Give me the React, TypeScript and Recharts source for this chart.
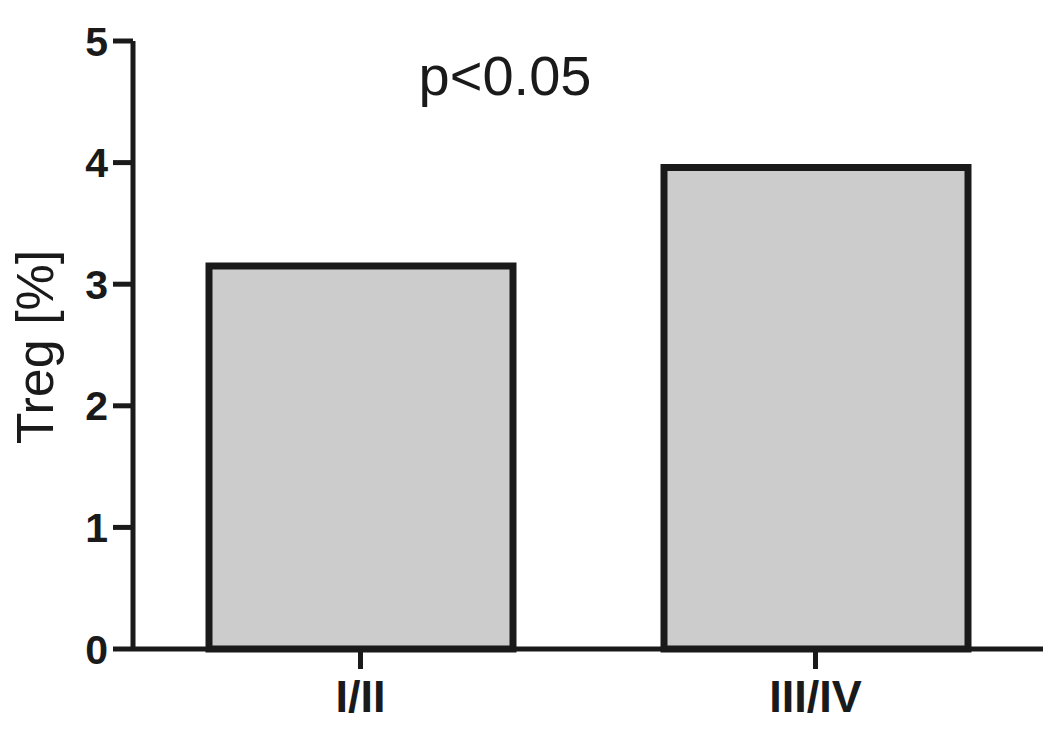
import React from 'react';
import { BarChart, Bar, XAxis, YAxis } from 'recharts';

const stages = ['I/II', 'III/IV'];
const tregValues = [3.15, 3.96];
const yTicks = [0, 1, 2, 3, 4, 5];
const pValueText = 'p<0.05';
const yTitle = 'Treg [%]';

const FONT = '"Liberation Sans", Arial, sans-serif';
const INK = '#1a1a1a';

const chartData = stages.map((stage, i) => ({ stage, treg: tregValues[i] }));

const YTitle = () => (
  <text
    x={53}
    y={347}
    transform="rotate(-90, 53, 347)"
    textAnchor="middle"
    fontFamily={FONT}
    fontSize={52}
    fill={INK}
  >
    {yTitle}
  </text>
);

const App: React.FC = () => {
  return (
    <div style={{ position: 'absolute', left: 0, top: 0, width: 1063, height: 736, background: '#fff' }}>
      <BarChart
        width={1063}
        height={736}
        data={chartData}
        margin={{ top: 41, right: 20, bottom: 0, left: 0 }}
        barCategoryGap={0}
      >
        <XAxis
          dataKey="stage"
          axisLine={{ stroke: INK, strokeWidth: 5 }}
          tickLine={{ stroke: INK, strokeWidth: 5 }}
          tickSize={20}
          tickMargin={11}
          tick={{ fill: INK, fontFamily: FONT, fontSize: 45, fontWeight: 'bold' }}
          height={87}
        />
        <YAxis
          domain={[0, 5]}
          ticks={yTicks}
          width={133}
          axisLine={{ stroke: INK, strokeWidth: 5 }}
          tickLine={{ stroke: INK, strokeWidth: 5 }}
          tickSize={20}
          tickMargin={5}
          tick={{ fill: INK, fontFamily: FONT, fontSize: 41, fontWeight: 'bold' }}
          label={{ content: () => <YTitle /> }}
        />
        <Bar
          dataKey="treg"
          fill="#cccccc"
          stroke={INK}
          strokeWidth={7}
          barSize={304}
          isAnimationActive={false}
        />
      </BarChart>
      <div
        style={{
          position: 'absolute',
          left: 505,
          top: 93,
          transform: 'translate(-50%, -80%)',
          fontFamily: FONT,
          fontSize: 56,
          color: INK,
          lineHeight: 1,
          whiteSpace: 'nowrap',
        }}
      >
        {pValueText}
      </div>
    </div>
  );
};

export default App;
